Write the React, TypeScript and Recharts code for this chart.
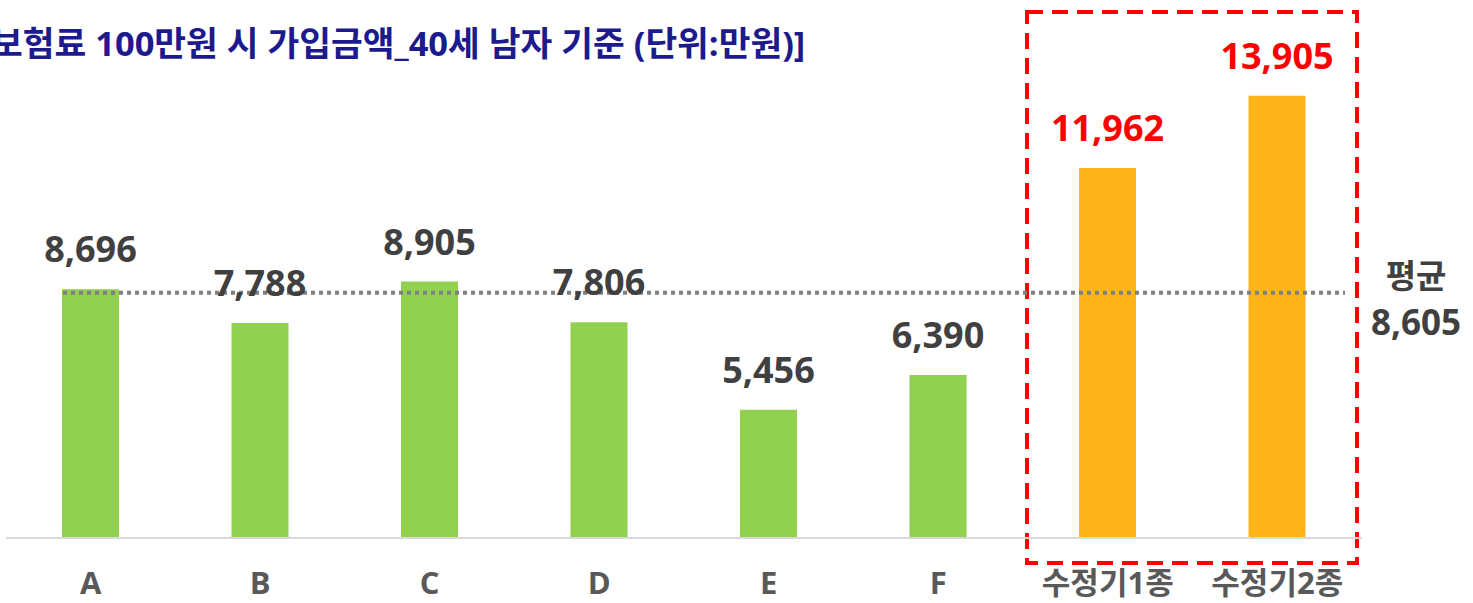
import React from 'react';
import { BarChart, Bar, XAxis, YAxis, Cell, LabelList, ReferenceLine, ReferenceArea } from 'recharts';

const titleText = '보험료 100만원 시 가입금액_40세 남자 기준 (단위:만원)]';
const categories = ['A', 'B', 'C', 'D', 'E', 'F', '수정기1종', '수정기2종'];
const amounts = [8696, 7788, 8905, 7806, 5456, 6390, 11962, 13905];
const highlighted = [false, false, false, false, false, false, true, true];
const averageAmount = 8605;
const averageLabel = '평균';
const yDomain = [2000, 16000];

const data = categories.map((name, i) => ({ name, value: amounts[i], hl: highlighted[i] }));

const FONT = '"Open Sans", "Noto Sans CJK KR", sans-serif';
const GREEN = '#92d050';
const ORANGE = '#ffb41b';
const RED = '#ff0000';
const DARK = '#404040';
const fmt = (v: number) => v.toLocaleString('en-US');

const renderValueLabel = (props: any) => {
  const { x, y, width, value, index } = props;
  const isHl = highlighted[index];
  return (
    <text
      x={Number(x) + Number(width) / 2}
      y={Number(y) - 27}
      textAnchor="middle"
      fill={isHl ? RED : DARK}
      fontFamily={FONT}
      fontWeight={700}
      fontSize={36}
    >
      {fmt(value)}
    </text>
  );
};

const renderTick = (props: any) => {
  const { x, y, payload } = props;
  return (
    <text x={x} y={y} dy={48} textAnchor="middle" fill="#595959" fontFamily={FONT} fontWeight={700} fontSize={31}>
      {payload.value}
    </text>
  );
};

const renderAvgLine = (props: any) => {
  const { x1, y1, x2 } = props;
  return (
    <g>
      <line x1={Number(x1) + 57} x2={Number(x2) - 17} y1={y1} y2={y1} stroke="#7f7f7f" strokeWidth={4} strokeDasharray="4 4" />
      <text x={1416} y={Number(y1) - 5} textAnchor="middle" fill={DARK} fontFamily={FONT} fontWeight={700} fontSize={33}>
        {averageLabel}
      </text>
      <text x={1416} y={Number(y1) + 42} textAnchor="middle" fill={DARK} fontFamily={FONT} fontWeight={700} fontSize={35}>
        {fmt(averageAmount)}
      </text>
    </g>
  );
};

const renderBox = (props: any) => {
  const { x, y, width, height } = props;
  return (
    <rect
      x={Number(x) + 4}
      y={Number(y) - 6}
      width={Number(width) - 9}
      height={Number(height) + 31}
      fill="none"
      stroke={RED}
      strokeWidth={4}
      strokeDasharray="16 9"
    />
  );
};

export default function App() {
  return (
    <div style={{ position: 'fixed', left: 0, top: 0, width: 1473, height: 603, background: '#fff', overflow: 'hidden' }}>
      <div
        style={{
          position: 'absolute',
          left: -9,
          top: 22,
          whiteSpace: 'nowrap',
          fontFamily: FONT,
          fontWeight: 700,
          fontSize: 34.5,
          color: '#1d1a8e',
          lineHeight: '42px',
        }}
      >
        {titleText}
      </div>
      <BarChart
        width={1473}
        height={603}
        data={data}
        margin={{ top: 18, right: 111, bottom: 0, left: 6 }}
        barSize={57}
        style={{ position: 'absolute', left: 0, top: 0 }}
      >
        <XAxis
          dataKey="name"
          tickLine={false}
          axisLine={{ stroke: '#d9d9d9', strokeWidth: 2 }}
          height={65}
          tick={renderTick}
          interval={0}
        />
        <YAxis hide domain={yDomain} allowDataOverflow />
        <ReferenceLine y={averageAmount} ifOverflow="visible" shape={renderAvgLine} />
        <Bar dataKey="value" isAnimationActive={false}>
          {data.map((d, i) => (
            <Cell key={i} fill={d.hl ? ORANGE : GREEN} />
          ))}
          <LabelList dataKey="value" content={renderValueLabel} />
        </Bar>
        <ReferenceArea
          x1={categories[6]}
          x2={categories[7]}
          y1={yDomain[0]}
          y2={yDomain[1]}
          ifOverflow="visible"
          shape={renderBox}
        />
      </BarChart>
    </div>
  );
}
